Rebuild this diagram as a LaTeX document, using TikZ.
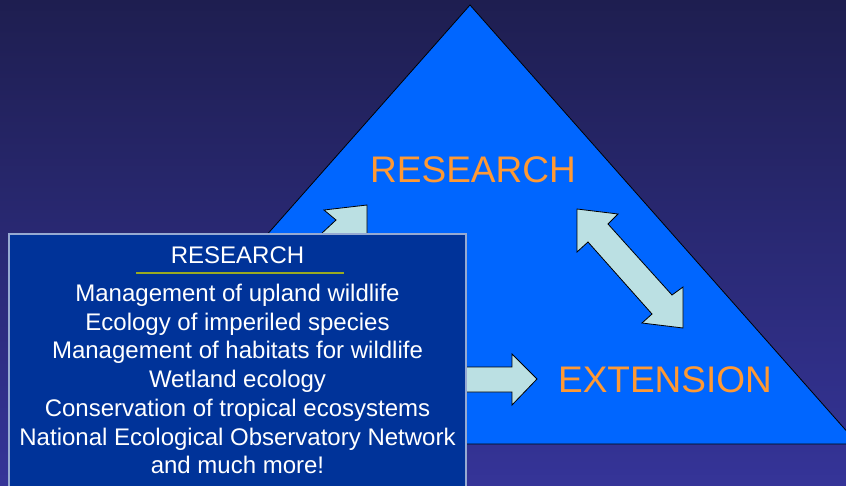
\documentclass[tikz,border=0pt]{standalone}
\usepackage{fontspec}
\setmainfont{Liberation Sans}
\definecolor{bgtop}{RGB}{30,30,80}
\definecolor{bgbot}{RGB}{53,52,152}
\definecolor{tri}{RGB}{0,102,255}
\definecolor{orng}{RGB}{255,153,51}
\definecolor{boxfill}{RGB}{0,51,153}
\definecolor{boxedge}{RGB}{150,170,210}
\definecolor{arrowfill}{RGB}{187,224,227}
\definecolor{rule}{RGB}{153,170,34}
\tikzset{
  bigtxt/.style={text=orng, font=\fontsize{37}{40}\selectfont, inner sep=0pt, anchor=base},
  boxtxt/.style={text=white, font=\fontsize{24}{28}\selectfont, inner sep=0pt, anchor=base},
  blockarrow/.style={fill=arrowfill, draw=black, line width=0.8pt, line join=miter},
  panel/.style={fill=boxfill, draw=boxedge, line width=1.2pt, minimum width=457pt, minimum height=254pt, inner sep=0pt}
}
\begin{document}
\begin{tikzpicture}[x=1pt,y=-1pt]
\useasboundingbox (0,0) rectangle (846,485);
\shade[top color=bgtop, bottom color=bgbot] (0,0) rectangle (846,485);
% triangle
\coordinate (apex) at (470,5);
\coordinate (bl) at (82,444);
\coordinate (br) at (858,444);
\fill[tri] (apex) -- (br) -- (bl) -- cycle;
\draw[black, line width=0.8pt] (apex) -- (br) -- (bl) -- cycle;
% labels
\node[bigtxt] (research) at (473,182) {RESEARCH};
\node[bigtxt] (extension) at (665,392) {EXTENSION};
% double arrow between research and extension
\draw[blockarrow] (577,209) -- (618,214) -- (608,224) -- (672,295) -- (683,287)
  -- (683,328) -- (642,323) -- (652,314) -- (588,242) -- (577,252) -- cycle;
% arrow from box up to research (partly hidden)
\draw[blockarrow] (367,205) -- (367,248) -- (356,238) -- (292,309) -- (260,291)
  -- (336,220) -- (324,210) -- cycle;
% arrow from box to extension
\draw[blockarrow] (430,367) -- (512,367) -- (512,354) -- (537,379) -- (512,405)
  -- (512,392) -- (430,392) -- cycle;
% panel
\node[panel] (box) at (237.5,361) {};
\node[boxtxt] (title) at (237.5,263) {RESEARCH};
\draw[rule, line width=1.5pt] (136,273) -- (344,273);
\node[boxtxt] (l1) at (237.5,301.5) {Management of upland wildlife};
\node[boxtxt] (l2) at (237.5,330.2) {Ecology of imperiled species};
\node[boxtxt] (l3) at (237.5,358.9) {Management of habitats for wildlife};
\node[boxtxt] (l4) at (237.5,387.6) {Wetland ecology};
\node[boxtxt] (l5) at (237.5,416.3) {Conservation of tropical ecosystems};
\node[boxtxt] (l6) at (237.5,445) {National Ecological Observatory Network};
\node[boxtxt] (l7) at (237.5,473.7) {and much more!};
\end{tikzpicture}
\end{document}
